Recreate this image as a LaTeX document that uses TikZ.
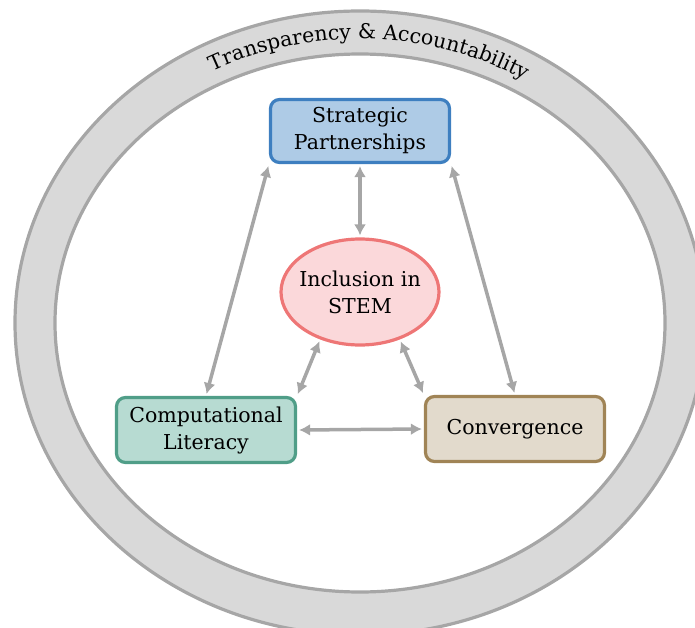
\documentclass[tikz,border=0pt]{standalone}
\usepackage{fontspec}
\setmainfont{DejaVu Serif}
\usetikzlibrary{calc,arrows.meta,shapes.geometric,decorations.text}
\definecolor{ringfill}{RGB}{217,217,217}
\definecolor{ringline}{RGB}{166,166,166}
\definecolor{linkgray}{RGB}{166,166,166}
\definecolor{stratfill}{RGB}{174,203,230}
\definecolor{stratline}{RGB}{62,127,192}
\definecolor{inclfill}{RGB}{251,216,218}
\definecolor{inclline}{RGB}{238,118,118}
\definecolor{compfill}{RGB}{183,219,210}
\definecolor{compline}{RGB}{80,158,136}
\definecolor{convfill}{RGB}{226,218,204}
\definecolor{convline}{RGB}{160,132,86}
\newcommand{\lbl}{\fontsize{20.5}{27}\selectfont}

\begin{document}
\begin{tikzpicture}[x=1pt,y=1pt,>={Latex[length=11pt,width=12pt]},
  box/.style={draw, line width=3.2pt, rounded corners=9pt, minimum width=179pt,
    minimum height=63pt, align=center, font=\lbl},
  link/.style={<->, draw=linkgray, line width=3.5pt, shorten <=2pt, shorten >=2pt}]
\useasboundingbox (0,0) rectangle (695,-628);
\clip (0,0) rectangle (695,-628);
% outer ring
\fill[ringfill, even odd rule] (360,-323) ellipse [x radius=345, y radius=312]
  (360,-323) ellipse [x radius=305, y radius=269];
\draw[ringline, line width=3.2pt] (360,-323) ellipse [x radius=345, y radius=312];
\draw[ringline, line width=3.2pt] (360,-323) ellipse [x radius=305, y radius=269];
\path[decorate, decoration={text along path, text align=center,
    text={|\lbl|Transparency {\&} Accountability}}]
  ($(360,-323)+(152:318 and 284)$) arc[start angle=152, end angle=24, x radius=318, y radius=284];
% pillars
\node[box, fill=stratfill, draw=stratline] (strat) at (360,-131) {Strategic\\Partnerships};
\node[ellipse, draw=inclline, fill=inclfill, line width=3.2pt, minimum width=158pt,
  minimum height=106pt, align=center, font=\lbl, inner xsep=-6pt, inner ysep=0pt]
  (incl) at (360,-292) {Inclusion in\\STEM};
\node[box, fill=compfill, draw=compline, minimum height=65pt] (comp) at (206,-430) {Computational\\Literacy};
\node[box, fill=convfill, draw=convline, minimum height=65pt] (conv) at (515,-429) {Convergence};
% links
\foreach \a/\b in {strat.south/incl.north, strat.south west/comp.north,
  strat.south east/conv.north, incl.-130/comp.north east,
  incl.-50/conv.north west, comp.east/conv.west}
  \draw[link] (\a) -- (\b);
\end{tikzpicture}
\end{document}
